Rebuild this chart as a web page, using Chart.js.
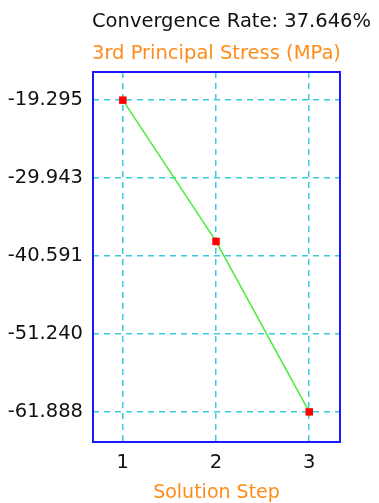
<!DOCTYPE html>
<html>
<head>
<meta charset="utf-8">
<script src="https://cdn.jsdelivr.net/npm/chart.js@4"></script>
<style>
  html, body { margin: 0; padding: 0; background: #ffffff; }
  #wrap { width: 379px; height: 503px; }
</style>
</head>
<body>
<div id="wrap"><canvas id="chart" width="379" height="503"></canvas></div>
<script>
// Convergence history of the 3rd principal stress
const steps = [1, 2, 3];
const stress = [-19.295, -38.6, -61.888];
const stepTicks = [1, 2, 3];
const stressTicks = [-19.295, -29.943, -40.591, -51.240, -61.888];

const headerText = 'Convergence Rate: 37.646%';
const yTitleText = '3rd Principal Stress (MPa)';
const xTitleText = 'Solution Step';

const FONT = '"DejaVu Sans", Verdana, sans-serif';
const ORANGE = '#ff8c1a';
const GRID = '#38cadd';

// Header lines above the plot, left-aligned with the plot frame
const headerPlugin = {
  id: 'header',
  afterDraw(chart) {
    const { ctx, chartArea } = chart;
    ctx.save();
    ctx.textAlign = 'left';
    ctx.textBaseline = 'alphabetic';
    ctx.font = '19.5px ' + FONT;
    ctx.fillStyle = '#111111';
    ctx.fillText(headerText, chartArea.left - 1, 27);
    ctx.fillStyle = ORANGE;
    ctx.fillText(yTitleText, chartArea.left - 1, 59);
    ctx.restore();
  }
};

// Blue frame around the plotting area
const framePlugin = {
  id: 'frame',
  beforeDatasetsDraw(chart) {
    const { ctx, chartArea } = chart;
    ctx.save();
    ctx.strokeStyle = '#1a1aff';
    ctx.lineWidth = 2;
    ctx.strokeRect(chartArea.left, chartArea.top,
                   chartArea.right - chartArea.left, chartArea.bottom - chartArea.top);
    ctx.restore();
  }
};

new Chart(document.getElementById('chart'), {
  type: 'line',
  data: {
    datasets: [{
      data: steps.map((s, i) => ({ x: s, y: stress[i] })),
      borderColor: '#44ee33',
      borderWidth: 1.5,
      pointStyle: 'rect',
      pointRadius: 5.3,
      pointHoverRadius: 5.3,
      pointBackgroundColor: '#ff0000',
      pointBorderColor: '#ff0000',
      pointBorderWidth: 0,
      tension: 0
    }]
  },
  options: {
    responsive: false,
    devicePixelRatio: 1,
    animation: false,
    layout: { padding: { left: 0, right: 39, top: 72, bottom: 0 } },
    plugins: {
      legend: { display: false },
      tooltip: { enabled: false }
    },
    scales: {
      x: {
        type: 'linear',
        min: 0.68,
        max: 3.33,
        afterBuildTicks(scale) { scale.ticks = stepTicks.map(v => ({ value: v })); },
        afterFit(scale) { scale.height = 61; },
        ticks: {
          color: '#111111',
          font: { family: FONT, size: 19.5 },
          padding: 9,
          callback: v => String(v)
        },
        grid: {
          color: GRID,
          lineWidth: 1.5,
          drawTicks: false
        },
        border: { display: false, dash: [6, 5] },
        title: {
          display: true,
          text: xTitleText,
          color: ORANGE,
          font: { family: FONT, size: 19, lineHeight: 1.0 },
          padding: 0
        }
      },
      y: {
        type: 'linear',
        min: -66.0,
        max: -15.45,
        afterBuildTicks(scale) { scale.ticks = stressTicks.map(v => ({ value: v })); },
        afterFit(scale) { scale.width = 93; },
        ticks: {
          color: '#111111',
          font: { family: FONT, size: 19.5 },
          padding: 10,
          callback: v => v.toFixed(3)
        },
        grid: {
          color: GRID,
          lineWidth: 1.5,
          drawTicks: false
        },
        border: { display: false, dash: [6, 5] }
      }
    }
  },
  plugins: [framePlugin, headerPlugin]
});
</script>
</body>
</html>
